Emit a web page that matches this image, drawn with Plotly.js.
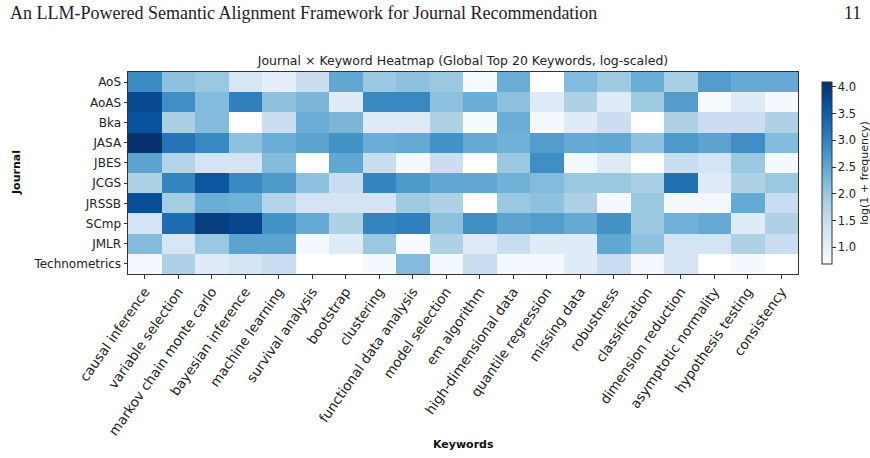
<!DOCTYPE html>
<html>
<head>
<meta charset="utf-8">
<script src="https://cdn.plot.ly/plotly-3.0.1.min.js"></script>
<style>html,body{margin:0;padding:0;background:#fff;}#chart{width:870px;height:458px;}</style>
</head>
<body>
<div id="chart"></div>
<script>
// Keywords (x categories)
const keywords = ["causal inference","variable selection","markov chain monte carlo","bayesian inference",
  "machine learning","survival analysis","bootstrap","clustering","functional data analysis","model selection",
  "em algorithm","high-dimensional data","quantile regression","missing data","robustness","classification",
  "dimension reduction","asymptotic normality","hypothesis testing","consistency"];
// Journals (y categories, top to bottom)
const journals = ["AoS","AoAS","Bka","JASA","JBES","JCGS","JRSSB","SCmp","JMLR","Technometrics"];

// log(1 + frequency) per journal, in keyword order (null = no occurrence)
const AoS   = [2.9,2.1,2.0,1.25,1.0,1.45,2.5,2.0,2.1,2.0, 0.72,2.4,null,2.2,1.95,2.4,1.85,2.65,2.45,2.45];
const AoAS  = [3.75,2.85,2.2,3.05,2.1,2.25,1.1,2.95,2.95,2.1, 2.4,2.1,1.1,1.8,1.1,1.95,2.65,0.72,1.1,0.75];
const Bka   = [3.65,1.85,2.2,null,1.45,2.4,2.25,1.12,1.12,1.8, 0.72,2.4,0.75,1.1,1.45,null,1.8,1.45,1.45,1.8];
const JASA  = [4.07,3.2,2.95,2.1,2.4,2.55,2.8,2.4,2.45,2.8, 2.45,2.35,2.65,2.45,2.5,2.1,2.7,2.55,2.85,2.2];
const JBES  = [2.55,1.75,1.3,1.3,2.2,null,2.5,1.5,0.75,1.45, null,2.0,2.85,0.75,1.12,null,1.5,1.3,2.0,0.75];
const JCGS  = [1.8,3.0,3.6,2.95,2.7,2.1,1.5,3.0,2.7,2.5, 2.5,2.35,2.2,2.0,2.0,1.85,3.25,1.12,1.8,2.0];
const JRSSB = [3.7,1.9,2.4,2.35,1.75,1.3,1.3,1.3,1.95,1.8, null,2.0,2.1,1.8,0.75,2.0,0.75,0.75,2.45,1.5];
const SCmp  = [1.3,3.3,3.9,3.8,2.8,2.45,1.8,3.0,3.05,2.1, 2.85,2.55,2.65,2.45,2.8,2.0,2.35,2.45,1.1,1.8];
const JMLR  = [2.2,1.25,2.0,2.55,2.55,0.75,1.1,2.0,0.72,1.8, 1.12,1.5,1.1,1.1,2.5,2.1,1.3,1.3,1.8,1.45];
const Technometrics = [0.75,1.8,1.1,1.3,1.5,null,null,0.75,2.2,0.75, 1.5,0.75,0.75,1.1,1.5,0.75,1.3,null,0.75,null];

const zRows = [AoS,AoAS,Bka,JASA,JBES,JCGS,JRSSB,SCmp,JMLR,Technometrics];
const cbTicks = [1.0,1.5,2.0,2.5,3.0,3.5,4.0];

const blues = [
  [0.0,"#f7fbff"],[0.125,"#deebf7"],[0.25,"#c6dbef"],[0.375,"#9ecae1"],
  [0.5,"#6baed6"],[0.625,"#4292c6"],[0.75,"#2171b5"],[0.875,"#08519c"],[1.0,"#08306b"]
];

const font = "DejaVu Sans, sans-serif";

const trace = {
  type: "heatmap",
  x: keywords,
  y: journals,
  z: zRows,
  zmin: 0.69,
  zmax: 4.09,
  colorscale: blues,
  hoverongaps: false,
  colorbar: {
    x: 1.0215, xanchor: "left", xref: "paper",
    y: 0.5, yanchor: "middle", len: 1, lenmode: "fraction",
    thickness: 10, thicknessmode: "pixels",
    outlinewidth: 1, outlinecolor: "#333",
    tickvals: cbTicks, ticktext: cbTicks.map(v => v.toFixed(1)),
    ticks: "outside", ticklen: 3.5, tickcolor: "#333",
    tickfont: {family: font, size: 11.5, color: "#222"},
    title: {text: "log(1 + frequency)", side: "right", font: {family: font, size: 11, color: "#222"}}
  }
};

const layout = {
  width: 870, height: 458,
  margin: {l: 128, r: 72, t: 72, b: 184, autoexpand: false},
  paper_bgcolor: "#fff", plot_bgcolor: "#fff",
  font: {family: font, color: "#222"},
  title: {
    text: "Journal × Keyword Heatmap (Global Top 20 Keywords, log-scaled)",
    font: {family: font, size: 12.5, color: "#222"},
    x: 0.5, xref: "paper", xanchor: "center",
    y: 1 - 61/458, yref: "container", yanchor: "middle"
  },
  xaxis: {
    type: "category",
    tickangle: -55,
    tickfont: {family: font, size: 13.5, color: "#222"},
    ticks: "outside", ticklen: 3.5, tickcolor: "#333",
    showline: true, mirror: true, linecolor: "#333", linewidth: 1,
    showgrid: false, zeroline: false, automargin: false
  },
  yaxis: {
    type: "category",
    autorange: "reversed",
    tickfont: {family: font, size: 12, color: "#222"},
    ticks: "outside", ticklen: 3.5, tickcolor: "#333",
    showline: true, mirror: true, linecolor: "#333", linewidth: 1,
    showgrid: false, zeroline: false, automargin: false
  },
  annotations: [
    {text: "An LLM-Powered Semantic Alignment Framework for Journal Recommendation",
     xref: "paper", yref: "paper", x: (8-128)/670, y: (274-13)/202, xanchor: "left", yanchor: "middle",
     showarrow: false, font: {family: "Liberation Serif, serif", size: 18, color: "#222"}},
    {text: "11",
     xref: "paper", yref: "paper", x: (863-128)/670, y: (274-13)/202, xanchor: "right", yanchor: "middle",
     showarrow: false, font: {family: "Liberation Serif, serif", size: 18, color: "#222"}},
    {text: "<b>Keywords</b>",
     xref: "paper", yref: "paper", x: 0.5, y: (274-444)/202, xanchor: "center", yanchor: "middle",
     showarrow: false, font: {family: font, size: 11, color: "#111"}},
    {text: "<b>Journal</b>",
     xref: "paper", yref: "paper", x: (16-128)/670, y: 0.5, xanchor: "center", yanchor: "middle",
     textangle: -90, showarrow: false, font: {family: font, size: 11, color: "#111"}}
  ]
};

Plotly.newPlot("chart", [trace], layout, {displayModeBar: false, staticPlot: true});
</script>
</body>
</html>
